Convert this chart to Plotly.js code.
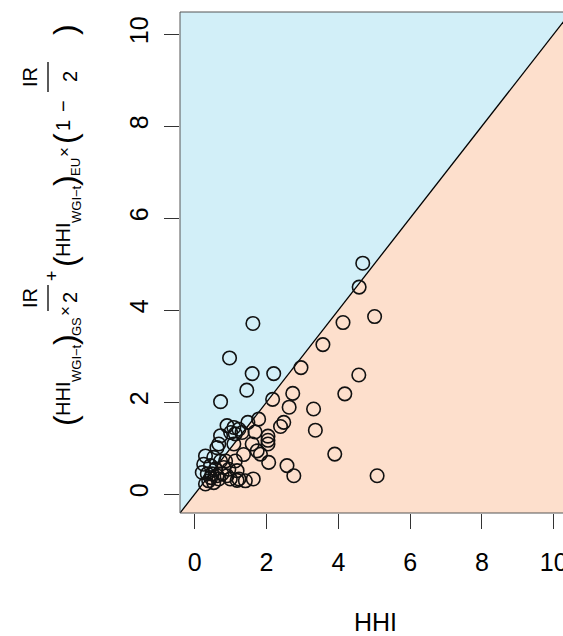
<!DOCTYPE html>
<html>
<head>
<meta charset="utf-8">
<script src="https://cdn.plot.ly/plotly-3.0.1.min.js"></script>
<style>
html,body{margin:0;padding:0;overflow:hidden;background:#fff;}
#chart{width:571px;height:636px;}
</style>
</head>
<body>
<div id="chart"></div>
<script>
// HHI (x) vs weighted HHI (y)
const hhi = [4.68,4.58,5.01,4.13,1.62,3.57,0.97,2.96,1.60,2.20,4.57,1.45,4.18,2.73,2.17,0.72,2.63,3.31,1.78,2.48,2.39,3.36,2.04,2.04,2.04,3.90,2.57,2.76,5.08,2.06,1.63,1.68,1.60,1.74,1.83,1.36,
  0.90,1.09,1.23,1.00,1.13,0.72,1.48,1.32,0.67,1.09,0.30,0.53,0.72,0.86,1.13,0.25,0.44,0.81,0.95,1.18,0.21,0.35,0.48,0.62,0.76,0.90,0.99,1.23,1.41,0.39,0.30,0.53,0.67,1.18,0.62,0.58,0.45];
const weighted = [5.02,4.50,3.86,3.73,3.71,3.25,2.96,2.75,2.62,2.62,2.59,2.26,2.18,2.19,2.06,2.01,1.89,1.85,1.63,1.56,1.47,1.39,1.26,1.17,1.09,0.87,0.62,0.40,0.40,0.69,0.33,1.35,1.09,0.94,0.87,0.86,
  1.49,1.45,1.41,1.34,1.31,1.27,1.56,1.34,1.09,1.09,0.83,0.80,0.72,0.72,0.72,0.65,0.62,0.58,0.54,0.51,0.47,0.44,0.44,0.40,0.44,0.40,0.33,0.33,0.29,0.29,0.22,0.25,0.33,0.30,1.01,0.55,0.36];
const tickVals = [0,2,4,6,8,10];
const tickText = ['0','2','4','6','8','10'];
const xTitle = 'HHI';

const lo = -0.41, hi = 10.48;
const FONT = 'Liberation Sans, Arial, Helvetica, sans-serif';
const W = 571, H = 636, ML = 180, MR = 0, MT = 12, MB = 123;
const PW = W - ML - MR, PH = H - MT - MB;
const px2x = p => (p - ML) / PW;
const py2y = p => (H - MB - p) / PH;

function ann(text, px, py, size) {
  return {
    text: text, xref: 'paper', yref: 'paper', x: px2x(px), y: py2y(py),
    showarrow: false, textangle: -90, xanchor: 'center', yanchor: 'middle',
    font: {family: FONT, size: size, color: '#000'}
  };
}

// rotated y-axis title built piece by piece (plotmath-like layout)
const MAIN = 20, SUB = 13, PAR = 32, XM = 63, XS = 76;
const annotations = [
  ann('(', 65, 421, PAR),
  ann('HHI', XM, 399, MAIN),
  ann('WGI\u2212t', XS, 363, SUB),
  ann(')', 65, 340, PAR),
  ann('GS', XS, 326, SUB),
  ann('\u00d7', 65, 311, 17),
  ann('IR', 30, 298, MAIN),
  ann('2', 70, 298, MAIN),
  ann('+', 52, 276, 18),
  ann('(', 65, 262, PAR),
  ann('HHI', XM, 240, MAIN),
  ann('WGI\u2212t', XS, 204, SUB),
  ann(')', 65, 181, PAR),
  ann('EU', XS, 167, SUB),
  ann('\u00d7', 65, 152, 17),
  ann('(', 65, 139, PAR),
  ann('1', XM, 126, MAIN),
  ann('\u2212', XM, 106, MAIN),
  ann('IR', 30, 77, MAIN),
  ann('2', 70, 77, MAIN),
  ann(')', 65, 30, PAR)
];

const shapes = [
  {type: 'path', xref: 'x', yref: 'y', layer: 'below', line: {width: 0},
   fillcolor: '#D2EFF8', path: `M ${lo} ${lo} L ${lo} ${hi} L ${hi} ${hi} Z`},
  {type: 'path', xref: 'x', yref: 'y', layer: 'below', line: {width: 0},
   fillcolor: '#FDDFCC', path: `M ${lo} ${lo} L ${hi} ${lo} L ${hi} ${hi} Z`},
  {type: 'line', xref: 'x', yref: 'y', layer: 'below', x0: lo, y0: lo, x1: hi, y1: hi,
   line: {color: '#000', width: 1.3}},
  {type: 'rect', xref: 'paper', yref: 'paper', x0: 0, y0: 0, x1: 1, y1: 1,
   line: {color: '#555', width: 1}},
  {type: 'line', xref: 'paper', yref: 'paper', x0: px2x(48), x1: px2x(48), y0: py2y(311), y1: py2y(285),
   line: {color: '#000', width: 1.3}},
  {type: 'line', xref: 'paper', yref: 'paper', x0: px2x(48), x1: px2x(48), y0: py2y(92), y1: py2y(62),
   line: {color: '#000', width: 1.3}}
];

const trace = {
  x: hhi, y: weighted, type: 'scatter', mode: 'markers',
  marker: {symbol: 'circle-open', size: 13.5, color: '#111', line: {width: 1.6, color: '#111'}},
  hoverinfo: 'x+y', cliponaxis: false
};

const axisCommon = {
  range: [lo, hi], tickvals: tickVals, ticktext: tickText,
  ticks: 'outside', ticklen: 15, tickwidth: 1, tickcolor: '#333',
  showgrid: false, zeroline: false, showline: false,
  tickfont: {family: FONT, size: 25, color: '#000'}
};

const layout = {
  width: W, height: H,
  margin: {l: ML, r: MR, t: MT, b: MB, pad: 0},
  paper_bgcolor: '#fff', plot_bgcolor: 'rgba(0,0,0,0)',
  showlegend: false,
  xaxis: Object.assign({}, axisCommon, {
    ticklabelstandoff: 12,
    title: {text: xTitle, font: {family: FONT, size: 25, color: '#000'}, standoff: 43}
  }),
  yaxis: Object.assign({}, axisCommon, {tickangle: -90, ticklabelstandoff: 6}),
  shapes: shapes,
  annotations: annotations
};

Plotly.newPlot('chart', [trace], layout, {displayModeBar: false, staticPlot: true});
</script>
</body>
</html>
